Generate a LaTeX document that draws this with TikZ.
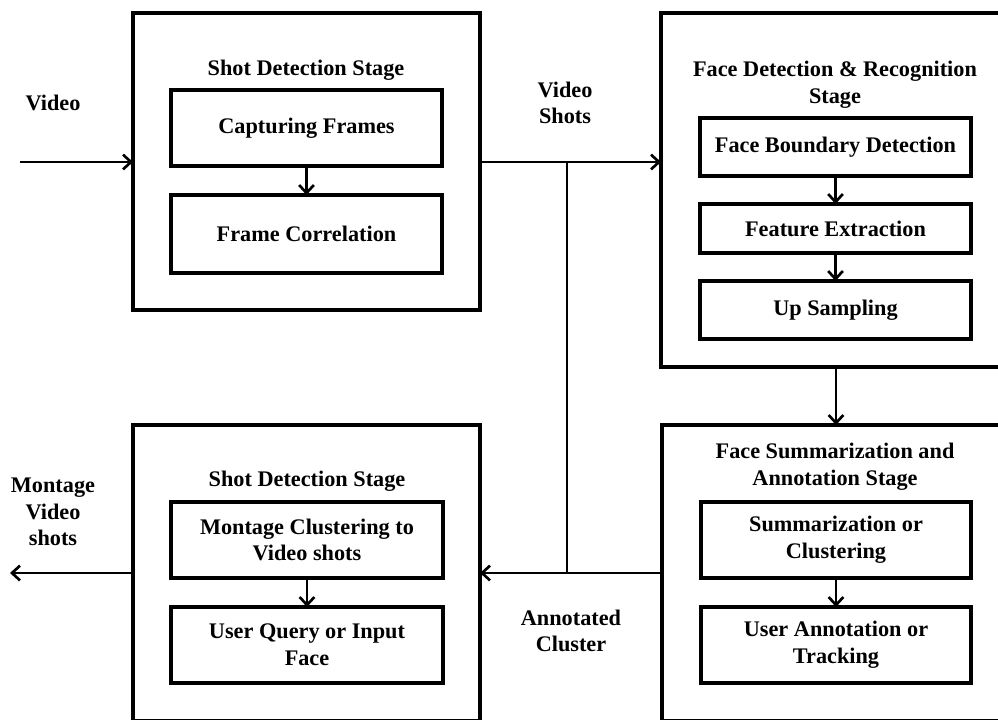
\documentclass[tikz,border=0pt]{standalone}
\usepackage{fontspec}
\setmainfont{Liberation Serif}
\usetikzlibrary{arrows.meta}
\begin{document}
\begin{tikzpicture}[x=0.75pt,y=-0.75pt,
  every node/.style={font=\fontsize{16.7}{20}\selectfont\bfseries, align=center, inner sep=0pt, outer sep=0pt},
  stagebox/.style={draw, line width=3pt},
  innerbox/.style={draw, line width=3pt},
  conn/.style={line width=2pt, -{Straight Barb[length=6pt,width=11pt,line width=2pt]}},
  plainline/.style={line width=2pt}]
\path[use as bounding box] (0,0) rectangle (998,719);
\clip (0,0) rectangle (998,719);
% stage boxes
\node[stagebox, minimum width=260.25pt, minimum height=222.75pt] (s1) at (306.5,161.5) {};
\node[stagebox, minimum width=261.75pt, minimum height=265.5pt] (s2) at (835.5,190) {};
\node[stagebox, minimum width=260.25pt, minimum height=222pt] (s3) at (306.5,573) {};
\node[stagebox, minimum width=261pt, minimum height=222pt] (s4) at (836,573) {};
% titles
\node (t1) at (306,70) {Shot Detection Stage};
\node (t2) at (835,84.5) {Face Detection \& Recognition\\Stage};
\node (t3) at (307,481) {Shot Detection Stage};
\node (t4) at (835,467) {Face Summarization and\\Annotation Stage};
% inner boxes
\node[innerbox, minimum width=203.25pt, minimum height=57pt] (cf) at (306.5,128) {Capturing Frames};
\node[innerbox, minimum width=203.25pt, minimum height=58.5pt] (fc) at (306.5,234) {Frame Correlation};
\node[innerbox, minimum width=203.25pt, minimum height=43.5pt] (fbd) at (835.5,147) {Face Boundary Detection};
\node[innerbox, minimum width=203.25pt, minimum height=36.75pt] (fe) at (835.5,228.5) {Feature Extraction};
\node[innerbox, minimum width=203.25pt, minimum height=43.5pt] (us) at (835.5,310) {Up Sampling};
\node[innerbox, minimum width=203pt, minimum height=57pt] (sc) at (836,540) {Summarization or\\Clustering};
\node[innerbox, minimum width=203pt, minimum height=57pt] (ua) at (836,645) {User Annotation or\\Tracking};
\node[innerbox, minimum width=204pt, minimum height=57pt] (mc) at (307,540) {Montage Clustering to\\Video shots};
\node[innerbox, minimum width=204pt, minimum height=57pt] (uq) at (307,645) {User Query or Input\\Face};
% labels
\node (lv) at (53,103) {Video};
\node (lvs) at (565,103) {Video\\Shots};
\node (lm) at (53,512) {Montage\\Video\\shots};
\node (lac) at (571,631) {Annotated\\Cluster};
% coordinates
\coordinate (vin) at (20,162);
\coordinate (vout) at (10,573);
\coordinate (j1) at (567,162);
\coordinate (j2) at (567,573);
% connectors
\draw[conn] (vin) -- (vin -| s1.west);
\draw[conn] (vin -| s1.east) -- (vin -| s2.west);
\draw[plainline] (j1) -- (j2);
\draw[conn] (s2.south -| 836,0) -- (s4.north -| 836,0);
\draw[conn] (s4.west) -- (s3.east);
\draw[conn] (s3.west) -- (vout);
\draw[conn] (cf.south) -- (fc.north);
\draw[conn] (fbd.south) -- (fe.north);
\draw[conn] (fe.south) -- (us.north);
\draw[conn] (sc.south) -- (ua.north);
\draw[conn] (mc.south) -- (uq.north);
\end{tikzpicture}
\end{document}
